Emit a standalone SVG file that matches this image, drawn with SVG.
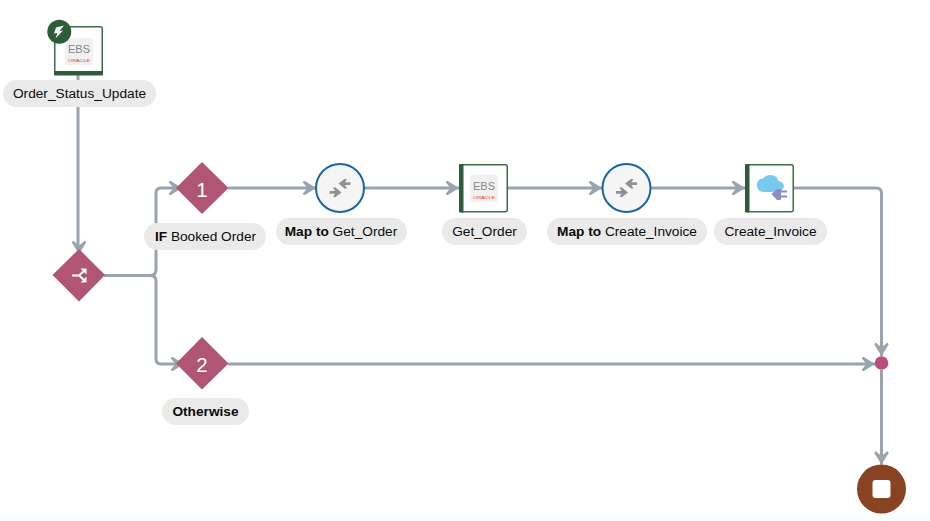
<svg xmlns="http://www.w3.org/2000/svg" width="930" height="521" viewBox="0 0 930 521">
<style>
text{font-family:"Liberation Sans",Arial,sans-serif}
.pill{fill:#eaeaea}
.lb{font-size:13.7px;fill:#0c0b0a;text-anchor:middle}
.lb tspan.b{font-weight:700}
.cn{fill:none;stroke:#98a4b0;stroke-width:3;stroke-linejoin:round}
.dm{fill:#b15574}
.num{font-size:20.500px;fill:#fff;text-anchor:middle}
.card{fill:#fff;stroke:#3f6b4b;stroke-width:1.5}
.bar{fill:#2e5c3a}
.map{fill:#f5f5f5;stroke:#1a66a3;stroke-width:2}
.mg{fill:#8e9296}
.ebsbg{fill:#f1f1f1}
.ebs{font-size:11px;fill:#85878a;text-anchor:middle}
.orc{font-size:4px;font-weight:400;fill:#e8352c;text-anchor:middle}
</style>
<defs>
<marker id="arr" markerUnits="userSpaceOnUse" markerWidth="18" markerHeight="18" refX="14" refY="9" orient="auto">
<path d="M0.500 3 L2.500 1.800 L14 9 L2.500 16.200 L0.500 15 L5.500 9 Z" fill="#98a4b0"/>
</marker>
<g id="ebs-logo">
<rect x="-14" y="-14" width="28" height="27.500" rx="3" class="ebsbg"/>
<text x="0" y="1" class="ebs">EBS</text>
<text x="0" y="10" class="orc" textLength="22" lengthAdjust="spacingAndGlyphs">ORACLE</text>
</g>
<g id="compress">
<path class="mg" d="M3.500 -3 L10.500 -3 L10.500 -5.800 L5 -5.800 L7 -9 L4.500 -9 L-1.500 -4.400 L4.500 0.500 L7 0.500 L5 -3 Z"/>
<path class="mg" d="M-3.500 3 L-10.500 3 L-10.500 5.800 L-5 5.800 L-7 9 L-4.500 9 L1.500 4.400 L-4.500 -0.500 L-7 -0.500 L-5 3 Z"/>
</g>
</defs>
<rect width="930" height="521" fill="#fff"/>
<rect y="517" width="930" height="4" fill="#f6fdfe"/>
<g id="connectors">
<path class="cn" d="M78 75 V248"/>
<path class="cn" d="M79 248 V254" marker-end="url(#arr)"/>
<path class="cn" d="M104 275.500 H150 Q156 275.500 156 270 V193 Q156 188 161 188 H182" marker-end="url(#arr)"/>
<path class="cn" d="M150 275.500 Q156 275.500 156 281 V359 Q156 364 161 364 H184" marker-end="url(#arr)"/>
<path class="cn" d="M228 188 H316" marker-end="url(#arr)"/>
<path class="cn" d="M364 188 H459" marker-end="url(#arr)"/>
<path class="cn" d="M508 188 H602" marker-end="url(#arr)"/>
<path class="cn" d="M651 188 H745" marker-end="url(#arr)"/>
<path class="cn" d="M794 188 H876 Q881.500 188 881.500 193 V356" marker-end="url(#arr)"/>
<path class="cn" d="M228 364 H875" marker-end="url(#arr)"/>
<path class="cn" d="M881.500 370 V464.500" marker-end="url(#arr)"/>
</g>
<g id="node-order-status-update">
<rect x="54.750" y="26.750" width="47.500" height="47.500" rx="2" class="card"/>
<rect x="54" y="71" width="49" height="4.500" rx="1" class="bar"/>
<use href="#ebs-logo" x="79" y="52"/>
<circle cx="59.300" cy="31.800" r="12" class="bar"/>
<path d="M64 25.500 L56 27.500 L54 33.500 L57.500 33 L55.500 38.500 L63 30.500 L59.500 31 Z" fill="#fff"/>
<rect x="3" y="80" width="153" height="27" rx="13.500" class="pill"/>
<text x="79.500" y="97.500" class="lb">Order_Status_Update</text>
</g>
<g id="node-router">
<path class="dm" d="M79 249 L105 275 L79 301.500 L52.500 275 Z"/>
<path d="M72 275.500 H79 L84 271 M79 275.500 L84 280" fill="none" stroke="#fff" stroke-width="2"/>
<path d="M80.500 268.500 H86.500 V274.500 Z M80.500 282.500 H86.500 V276.500 Z" fill="#fff"/>
</g>
<g id="node-if">
<path class="dm" d="M202 162 L228.500 188 L202 214 L176 188 Z"/>
<text x="202" y="197" class="num">1</text>
<rect x="144" y="223" width="122" height="27" rx="13.500" class="pill"/>
<text x="205.500" y="240.500" class="lb"><tspan class="b">IF</tspan> Booked Order</text>
</g>
<g id="node-map-get-order">
<circle cx="340" cy="188" r="24" class="map"/>
<use href="#compress" x="340" y="188"/>
<rect x="276" y="218" width="131" height="27" rx="13.500" class="pill"/>
<text x="341" y="235.500" class="lb"><tspan class="b">Map to</tspan> Get_Order</text>
</g>
<g id="node-get-order">
<rect x="459.750" y="164.750" width="47.500" height="47" rx="2" class="card"/>
<rect x="459" y="164" width="4.500" height="48.500" rx="1" class="bar"/>
<use href="#ebs-logo" x="484" y="188.500"/>
<rect x="442" y="218" width="85" height="27" rx="13.500" class="pill"/>
<text x="484.500" y="235.500" class="lb">Get_Order</text>
</g>
<g id="node-map-create-invoice">
<circle cx="626.500" cy="188" r="24" class="map"/>
<use href="#compress" x="626.500" y="188"/>
<rect x="547" y="218" width="160" height="27" rx="13.500" class="pill"/>
<text x="627" y="235.500" class="lb"><tspan class="b">Map to</tspan> Create_Invoice</text>
</g>
<g id="node-create-invoice">
<rect x="745.750" y="164.750" width="47.500" height="47" rx="2" class="card"/>
<rect x="745" y="164" width="4.500" height="48.500" rx="1" class="bar"/>
<path d="M763 192 Q757 191 757 185 Q757 179 763 178.500 Q766 175 770 175 Q777 175 778.500 181 Q784 182 784 187 L782 190 L772 192 Z" fill="#78c9f0"/>
<path d="M771.500 194 L777 189 H781 V200 H777 Z" fill="#8a8cc4"/>
<path d="M781 191.500 H787 M781 196.500 H787" stroke="#8a8cc4" stroke-width="2" fill="none"/>
<rect x="714" y="218" width="113" height="27" rx="13.500" class="pill"/>
<text x="770.500" y="235.500" class="lb">Create_Invoice</text>
</g>
<g id="node-otherwise">
<path class="dm" d="M202 337 L228.500 363.500 L202 389.500 L176 363.500 Z"/>
<text x="202" y="372" class="num">2</text>
<rect x="162" y="398" width="87" height="27" rx="13.500" class="pill"/>
<text x="205.500" y="415.500" class="lb" font-weight="700">Otherwise</text>
</g>
<g id="node-merge">
<circle cx="881.500" cy="363" r="6.800" fill="#b8507a"/>
</g>
<g id="node-end">
<circle cx="881.500" cy="489" r="24.500" fill="#8a4322"/>
<rect x="872.500" y="480" width="18" height="18" rx="3" fill="#fff"/>
</g>
</svg>
